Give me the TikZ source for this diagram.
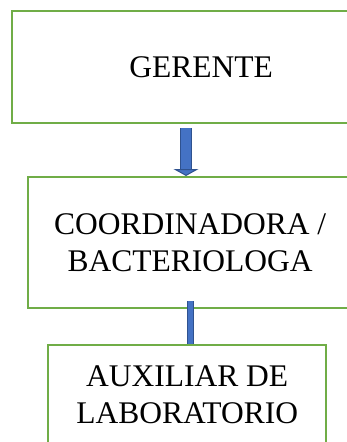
\documentclass[tikz,border=0pt]{standalone}
\usepackage{fontspec}
\setmainfont{Liberation Serif}
\usepackage{xcolor}
\usetikzlibrary{arrows.meta}
\definecolor{boxgreen}{HTML}{70AD47}
\definecolor{arrowblue}{HTML}{4472C4}
\definecolor{arrowedge}{HTML}{2F528F}

\begin{document}
\begin{tikzpicture}[
        x=1pt, y=-1pt,
        box/.style = {draw=boxgreen, line width=2.3pt, rectangle,
            anchor=north west, align=center,
            font=\fontsize{31.5}{37}\selectfont},
        blockarrow/.style = {draw=arrowedge, line width=1pt,
            double=arrowblue, double distance=10pt,
            -{Triangle[width=25pt, length=7pt, fill=arrowblue, line width=1pt]}},
        barline/.style = {draw=arrowedge, line width=1pt,
            double=arrowblue, double distance=5pt}]
        \useasboundingbox (0,0) rectangle (347,442);
        \clip (0,0) rectangle (347,442);
        % NODES
        % node G
        \node[box, minimum width=378pt, minimum height=112pt] (G) at (11,10) {GERENTE};
        % node C
        \node[box, minimum width=324pt, minimum height=131pt] (C) at (27,176) {COORDINADORA /\\BACTERIOLOGA};
        % node A
        \node[box, minimum width=278pt, minimum height=100pt] (A) at (47,344) {AUXILIAR DE\\LABORATORIO};
        % connector ends
        \coordinate (g1) at (186,128);
        \coordinate (c1) at (190.5,301);

        % ARROWS
        \draw[blockarrow] (g1)--(g1 |- C.north);
        \draw[barline] (c1)--(c1 |- A.north);
    \end{tikzpicture}
\end{document}
